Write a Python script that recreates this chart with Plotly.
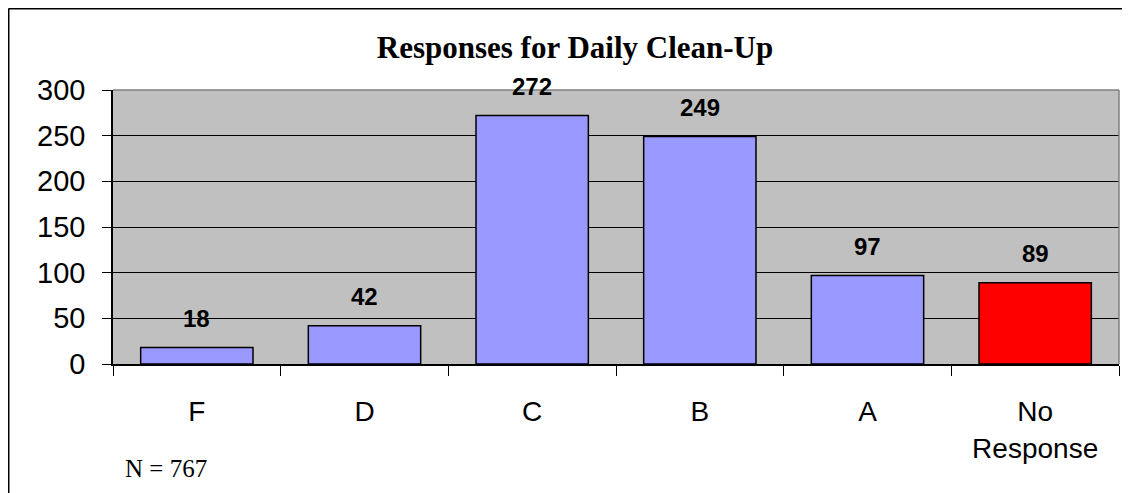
import plotly.graph_objects as go

categories = ["F", "D", "C", "B", "A", "No Response"]
tick_labels = ["F", "D", "C", "B", "A", "No<br>Response"]
values = [18, 42, 272, 249, 97, 89]
colors = ["#9999FF", "#9999FF", "#9999FF", "#9999FF", "#9999FF", "#FF0000"]

# page body has an 8px margin; work in page coordinates and convert
OFF = 8
PAGE_W, PAGE_H = 1130, 493
W, H = PAGE_W - OFF, PAGE_H - OFF
PL, PR, PT, PB = 113, 1119, 90, 364  # plot area in page px
L, T = PL - OFF, PT - OFF
R = W - (PR - OFF)
B = H - (PB - OFF)
pw = PR - PL
ph = PB - PT

def px(x):
    return (x - PL) / pw

def py(y):
    return (PB - y) / ph

fig = go.Figure()
fig.add_trace(go.Bar(
    x=categories, y=values,
    marker=dict(color=colors, line=dict(color="black", width=1.5)),
    width=0.67,
    hoverinfo="x+y",
))

for c, v in zip(categories, values):
    fig.add_annotation(x=c, y=v, text=f"<b>{v}</b>", showarrow=False,
                       yanchor="middle", yshift=29,
                       font=dict(family="Liberation Sans, Arial", size=24, color="black"))

fig.add_annotation(xref="paper", yref="paper", x=px(123), y=py(468),
                   xanchor="left", yanchor="middle", showarrow=False,
                   text="N = 767",
                   font=dict(family="Liberation Serif, Times New Roman", size=25, color="black"))

# plot-area top/right border (gray) and outer frame
fig.add_shape(type="line", xref="paper", yref="paper", x0=0, x1=1, y0=1, y1=1,
              line=dict(color="#808080", width=1.5), layer="above")
fig.add_shape(type="line", xref="paper", yref="paper", x0=1, x1=1, y0=0, y1=1,
              line=dict(color="#808080", width=1.5), layer="above")
fig.add_shape(type="line", xref="paper", yref="paper", x0=px(8.5), x1=px(1140), y0=py(8.5), y1=py(8.5),
              line=dict(color="black", width=2))
fig.add_shape(type="line", xref="paper", yref="paper", x0=px(8.5), x1=px(8.5), y0=py(8.5), y1=py(500),
              line=dict(color="black", width=2))

fig.update_layout(
    width=W, height=H,
    margin=dict(l=L, r=R, t=T, b=B),
    paper_bgcolor="white",
    plot_bgcolor="#C0C0C0",
    showlegend=False,
    bargap=0.33,
    title=dict(text="<b>Responses for Daily Clean-Up</b>",
               x=(575 - OFF) / W, xref="container", xanchor="center",
               y=1 - (47.5 - OFF) / H, yref="container", yanchor="middle",
               font=dict(family="Liberation Serif, Times New Roman", size=31, color="black")),
    xaxis=dict(
        tickmode="array", tickvals=categories, ticktext=tick_labels,
        tickson="boundaries", ticks="outside", ticklen=10, tickcolor="black", tickwidth=1,
        showline=True, linecolor="black", linewidth=1.5,
        showgrid=False,
        ticklabelstandoff=22,
        tickfont=dict(family="Liberation Sans, Arial", size=28, color="black"),
        fixedrange=True,
    ),
    yaxis=dict(
        range=[0, 300], tickmode="array", tickvals=[0, 50, 100, 150, 200, 250, 300],
        ticks="outside", ticklen=9, tickcolor="black", tickwidth=1,
        showline=True, linecolor="black", linewidth=1.5,
        showgrid=True, gridcolor="black", gridwidth=1,
        zeroline=False,
        ticklabelstandoff=11,
        tickfont=dict(family="Liberation Sans, Arial", size=29, color="black"),
        fixedrange=True,
    ),
)

fig.write_html("out.html")
